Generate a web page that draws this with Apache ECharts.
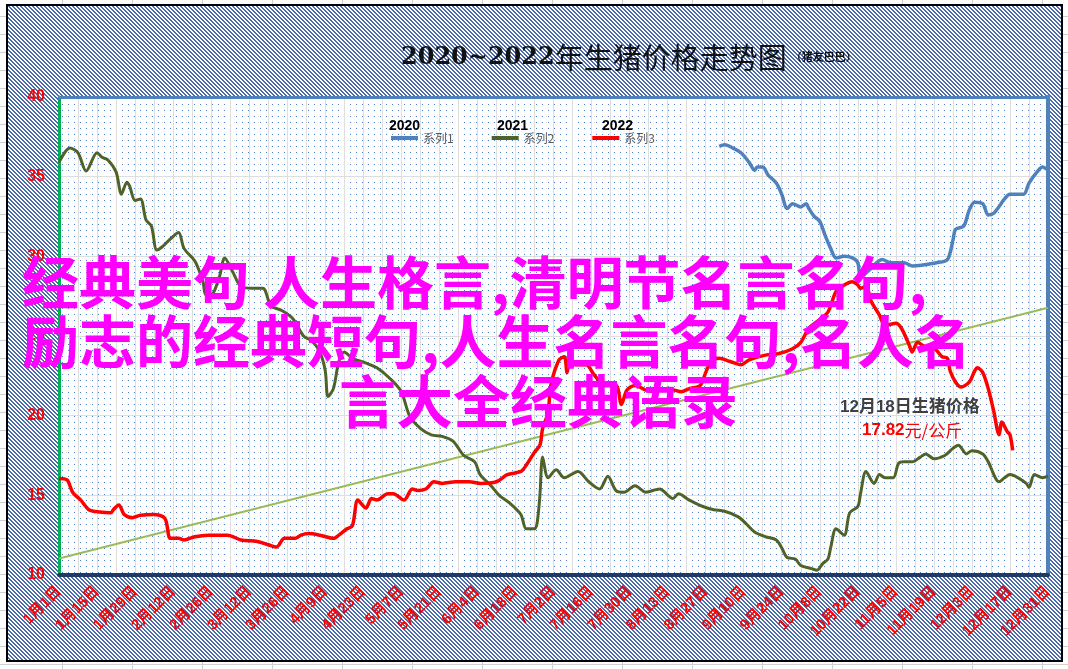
<!DOCTYPE html>
<html><head><meta charset="utf-8">
<script src="https://cdn.jsdelivr.net/npm/echarts/dist/echarts.min.js"></script>
<style>
html,body{margin:0;padding:0;width:1068px;height:669px;overflow:hidden;background:#fff;}
#excel{position:absolute;left:0;top:0;width:1068px;height:669px;
 background-image:linear-gradient(to right,#d0d0d0 1px,transparent 1px),linear-gradient(to bottom,#d0d0d0 1px,transparent 1px);
 background-size:70px 18px;background-position:62px 16px;}
#frame{position:absolute;left:6px;top:4px;width:1057px;height:658px;box-sizing:border-box;border:2px solid #000;}
#main{position:absolute;left:0;top:0;width:1068px;height:669px;}
</style></head><body>
<div id="excel"></div><div id="frame"></div><div id="main"></div>
<script>
// ---------- data ----------
const xTickLabels = ['1月1日','1月15日','1月29日','2月12日','2月26日','3月12日','3月26日','4月9日','4月23日','5月7日','5月21日','6月4日','6月18日','7月2日','7月16日','7月30日','8月13日','8月27日','9月10日','9月24日','10月8日','10月22日','11月5日','11月19日','12月3日','12月17日','12月31日'];
const yTicks = [10, 40, 5]; // min, max, step

const days2020 = [243,245,248,251,254,256,257,259,261,264,266,268,270,273,275,276,278,280,282,284,286,289,292,294,295,298,303,306,311,314,323,327,329,330,333,335,337,340,342,344,348,350,355,357,360,362,364];
const price2020 = [36.9,37.0,36.8,36.5,35.9,35.4,35.6,35.6,35.1,34.6,33.9,33.0,33.3,33.1,33.3,33.0,32.5,32.2,31.3,30.5,29.9,30.0,29.9,29.6,28.7,29.1,29.8,29.6,29.6,29.4,29.6,29.8,31.0,31.7,31.9,32.9,33.4,33.3,32.6,32.7,33.6,33.9,33.9,34.6,35.3,35.6,35.4];

const days2021 = [0,4,7,10,14,16,18,21,23,25,26,28,30,32,34,36,38,41,44,46,50,53,54,56,59,61,64,67,71,75,78,82,86,90,93,96,98,99,101,103,105,108,113,117,122,126,129,133,137,141,145,149,153,155,159,162,166,170,172,175,176,177,178,180,183,186,191,195,199,202,205,208,212,216,221,226,228,232,237,241,245,250,253,256,260,264,266,268,271,273,277,279,281,283,284,286,289,291,294,295,297,300,302,304,307,309,311,314,317,319,322,326,329,331,334,336,340,342,346,348,350,353,356,357,359,362,364];
const price2021 = [35.9,36.8,36.5,35.35,36.5,36.2,36.05,35.3,33.9,34.65,34.4,33.5,33.6,32.3,31.9,30.4,30.6,31.1,31.5,30.5,29.7,28.4,27.6,27.6,28.7,29.9,29.0,28.1,28.0,28.0,26.9,26.6,26.1,25.0,24.7,24.0,22.8,21.2,21.7,23.4,24.0,23.6,23.3,23.0,22.3,21.5,20.0,19.2,18.8,18.7,18.4,17.5,17.1,16.3,15.6,15.0,14.5,13.8,12.9,12.9,13.3,15.0,17.4,16.1,16.6,16.1,16.5,15.85,15.4,16.2,15.3,15.2,15.6,15.2,15.4,14.8,15.1,14.7,14.3,14.1,14.0,13.65,13.2,12.7,12.4,12.2,11.7,11.1,11.0,10.6,10.4,10.3,10.7,11.0,11.7,12.9,12.5,13.9,14.3,15.1,16.5,15.75,16.3,16.1,16.1,17.0,17.1,17.1,17.4,17.6,17.3,17.5,17.95,18.15,17.6,17.8,17.6,17.1,15.85,16.1,16.3,16.1,15.75,15.5,16.3,16.1,16.2];

const days2022 = [0,3,5,8,11,15,19,20,22,24,27,30,35,39,41,44,46,50,55,62,67,73,77,80,83,87,89,92,96,101,103,106,108,110,113,115,117,121,123,127,130,132,135,138,141,146,151,155,161,165,170,172,175,177,178,180,181,184,186,187,188,190,194,197,201,205,207,209,212,216,219,224,229,232,236,238,240,243,247,251,254,260,265,270,273,276,279,283,286,289,292,294,295,297,299,302,303,305,308,310,313,314,316,318,320,322,325,327,328,330,332,335,337,338,340,342,344,346,347,349,350,351];
const price2022 = [16.06,15.96,15.2,14.7,14.1,13.95,13.9,14.1,14.4,13.8,13.6,13.75,13.8,13.55,12.3,12.3,12.2,12.4,12.5,12.5,12.2,12.1,11.9,11.75,12.3,12.3,12.5,12.6,12.5,12.3,12.5,12.9,13.1,14.7,14.2,14.8,14.7,15.1,15.1,14.7,15.4,15.3,15.4,15.85,15.75,15.85,15.85,15.75,15.85,16.3,16.5,16.9,17.7,18.15,19.2,20.2,21.9,23.5,23.7,22.7,23.5,23.2,23.2,22.55,21.9,21.9,20.7,21.6,21.9,21.6,21.5,21.7,21.5,21.7,21.9,22.7,23.4,23.6,23.4,23.2,23.5,23.8,23.9,24.2,24.6,25.5,25.9,26.5,27.8,28.2,28.4,28.2,28.0,28.1,27.15,26.3,25.9,25.7,25.8,25.5,24.4,24.0,24.6,24.4,24.2,24.2,23.7,23.6,22.8,22.1,21.8,22.1,22.8,23.0,22.7,21.7,20.3,18.8,19.6,19.0,18.8,17.82];

const trendDays = [0, 364];
const trendValues = [11.04, 26.77];

const seriesNames = ['系列1','系列2','系列3'];
const legendYears = ['2020','2021','2022'];
const titleMain = '2020~2022';
const titleCn = '年生猪价格走势图';
const titleSub = '（猪友巴巴）';
const noteLine1 = '12月18日生猪价格';
const notePrice = '17.82';
const noteUnit = '元/公斤';
const overlayLines = ['经典美句 人生格言,清明节名言名句,','励志的经典短句,人生名言名句,名人名','言大全经典语录'];

// ---------- patterns ----------
function makeTile(w,h,draw){const c=document.createElement('canvas');c.width=w;c.height=h;draw(c.getContext('2d'));return c;}
const hatch = makeTile(4,4,g=>{g.fillStyle='#fff';g.fillRect(0,0,4,4);g.fillStyle='#4d6cab';for(let y=0;y<4;y++){g.fillRect(y%4,y,1,1);g.fillRect((y+1)%4,y,1,1);}});
document.getElementById('frame').style.backgroundImage='url('+hatch.toDataURL()+')';
const dots = makeTile(6,6,g=>{g.fillStyle='#fff';g.fillRect(0,0,6,6);g.fillStyle='#4f7fc8';g.fillRect(2,2,1,1);});

function pairs(d,v){return d.map((x,i)=>[x,v[i]]);}

const chart = echarts.init(document.getElementById('main'), null, {renderer:'canvas'});
const baseFont = '"Liberation Sans","Noto Sans CJK SC",sans-serif';
chart.setOption({
  animation:false,
  backgroundColor:'transparent',
  title:{
    left:396, top:36,
    text:'{a|'+titleMain+'}{b|'+titleCn+'}{c|'+titleSub+'}',
    textStyle:{rich:{
      a:{fontFamily:'"DejaVu Serif",serif',fontWeight:'bold',fontSize:24,color:'#111',lineHeight:34},
      b:{fontFamily:'"Noto Sans CJK SC"',fontWeight:'normal',fontSize:29,color:'#111',lineHeight:34},
      c:{fontFamily:'"Noto Sans CJK SC"',fontWeight:'bold',fontSize:11,color:'#111',lineHeight:34,padding:[0,0,2,4]}
    }}
  },
  legend:{
    data:seriesNames, left:386, top:127, icon:'rect', itemWidth:27, itemHeight:4, itemGap:38,
    textStyle:{color:'#595959',fontSize:12,fontFamily:'"Noto Sans CJK SC"'}
  },
  grid:{left:59,right:20,top:97,bottom:94,show:true,borderWidth:0,backgroundColor:{image:dots,repeat:'repeat'}},
  xAxis:[{
    type:'value',min:0,max:364,interval:7,position:'bottom',
    axisLine:{show:true,onZero:false,lineStyle:{color:'#1f3864',width:4}},
    axisTick:{show:false},
    splitLine:{show:true,lineStyle:{color:'#dedede',width:1}},
    axisLabel:{formatter:v=>(v%14===0?xTickLabels[v/14]:''),rotate:45,color:'#ff0000',fontSize:15,fontWeight:'bold',margin:14,fontFamily:baseFont}
  },{
    type:'value',min:0,max:364,position:'top',
    axisLine:{show:true,onZero:false,lineStyle:{color:'#4f81bd',width:3}},
    axisTick:{show:false},axisLabel:{show:false},splitLine:{show:false}
  }],
  yAxis:[{
    type:'value',min:yTicks[0],max:yTicks[1],interval:yTicks[2],
    axisLine:{show:true,onZero:false,lineStyle:{color:'#00b050',width:3}},
    axisTick:{show:false},
    splitLine:{show:true,lineStyle:{color:'#dedede',width:1}},
    axisLabel:{color:'#ff0000',fontWeight:'bold',fontSize:16,margin:14,fontFamily:'"Liberation Sans",sans-serif'}
  },{
    type:'value',min:yTicks[0],max:yTicks[1],position:'right',
    axisLine:{show:true,onZero:false,lineStyle:{color:'#4f81bd',width:4}},
    axisTick:{show:false},axisLabel:{show:false},splitLine:{show:false}
  }],
  series:[
    {name:'趋势',type:'line',data:pairs(trendDays,trendValues),showSymbol:false,lineStyle:{color:'#9bbb59',width:2},itemStyle:{color:'#9bbb59'},z:2,silent:true},
    {name:seriesNames[0],type:'line',data:pairs(days2020,price2020),smooth:0.3,showSymbol:false,lineStyle:{color:'#4f81bd',width:3.5},itemStyle:{color:'#4f81bd'},z:3},
    {name:seriesNames[1],type:'line',data:pairs(days2021,price2021),smooth:0.3,showSymbol:false,lineStyle:{color:'#4f6228',width:3},itemStyle:{color:'#4f6228'},z:3},
    {name:seriesNames[2],type:'line',data:pairs(days2022,price2022),smooth:0.3,showSymbol:false,lineStyle:{color:'#ff0000',width:3.5},itemStyle:{color:'#ff0000'},z:4}
  ],
  graphic:[
    {type:'text',left:389,top:119,z:20,style:{text:legendYears[0],fill:'#000',font:'bold 14px "Liberation Sans"'}},
    {type:'text',left:497,top:119,z:20,style:{text:legendYears[1],fill:'#000',font:'bold 14px "Liberation Sans"'}},
    {type:'text',left:602,top:119,z:20,style:{text:legendYears[2],fill:'#000',font:'bold 14px "Liberation Sans"'}},
    {type:'text',left:840,top:399,z:20,style:{text:noteLine1,fill:'#404040',font:'bold 17px "Liberation Sans","Noto Sans CJK SC"'}},
    {type:'text',left:862,top:422,z:20,style:{text:'{a|'+notePrice+'}{b|'+noteUnit+'}',rich:{
      a:{fill:'#ff0000',fontWeight:'bold',fontSize:17,fontFamily:'"Liberation Sans"'},
      b:{fill:'#ff0000',fontWeight:'normal',fontSize:17,fontFamily:'"Noto Sans CJK SC"'}}}},
    {type:'text',left:22,top:254,z:50,style:{text:overlayLines[0],fill:'#ff00ff',font:'bold 57px "Noto Sans CJK SC"'}},
    {type:'text',left:22,top:313,z:50,style:{text:overlayLines[1],fill:'#ff00ff',font:'bold 57px "Noto Sans CJK SC"'}},
    {type:'text',left:339,top:373,z:50,style:{text:overlayLines[2],fill:'#ff00ff',font:'bold 57px "Noto Sans CJK SC"'}}
  ]
});
</script></body></html>
